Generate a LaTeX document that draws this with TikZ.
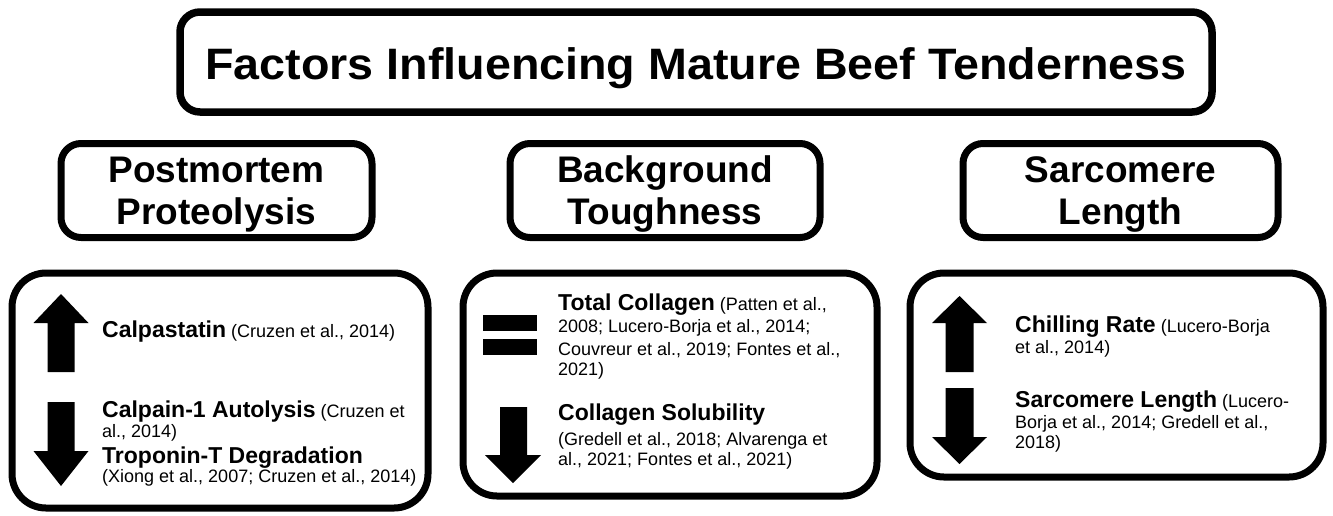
\documentclass[tikz,border=0pt]{standalone}
\usepackage{fontspec}
\setmainfont{Liberation Sans}
\newcommand{\bigbf}{\fontsize{23}{27}\selectfont\bfseries}
\begin{document}
\begin{tikzpicture}[x=1pt,y=-1pt,
  titlebox/.style={draw=black, line width=7.5pt, rounded corners=20pt, fill=white, inner sep=0pt},
  titletext/.style={anchor=base, inner sep=0pt, xscale=1.06, font=\fontsize{44}{50}\selectfont\bfseries},
  headbox/.style={draw=black, line width=7pt, rounded corners=20pt, fill=white, inner sep=0pt},
  headtext/.style={anchor=base, inner sep=0pt, align=center, font=\fontsize{37}{42}\selectfont\bfseries},
  lowbox/.style={draw=black, line width=7pt, rounded corners=34pt, fill=white, inner sep=0pt},
  ln/.style={anchor=base west, inner sep=0pt, font=\fontsize{18}{21}\selectfont},
  arr/.style={fill=black}]
\useasboundingbox (0,0) rectangle (1333,515);
% title
\node[titlebox, minimum width=1032pt, minimum height=100pt] (title) at (696,62) {};
\node[titletext] (titlet) at (696,79) {Factors Influencing Mature Beef Tenderness};
% headers
\node[headbox, minimum width=311pt, minimum height=94pt] (h1) at (216.5,190.5) {};
\node[headbox, minimum width=310pt, minimum height=94pt] (h2) at (665,190.5) {};
\node[headbox, minimum width=315pt, minimum height=94pt] (h3) at (1120.5,190.5) {};
\node[headtext] (h1t) at (h1.center |- 0,224) {Postmortem\\Proteolysis};
\node[headtext] (h2t) at (h2.center |- 0,224) {Background\\Toughness};
\node[headtext] (h3t) at (h3.center |- 0,224) {Sarcomere\\Length};
% lower boxes
\node[lowbox, minimum width=416pt, minimum height=235pt] (b1) at (220,390.5) {};
\node[lowbox, minimum width=414pt, minimum height=223pt] (b2) at (670,384.5) {};
\node[lowbox, minimum width=413pt, minimum height=204pt] (b3) at (1116.5,375) {};
% box 1 arrows
\fill[arr] (47.5,372) -- (47.5,323) -- (33.5,323) -- (61,294) -- (88.5,323) -- (74.5,323) -- (74.5,372) -- cycle;
\fill[arr] (47.5,402) -- (47.5,451) -- (33.5,451) -- (61,486) -- (88.5,451) -- (74.5,451) -- (74.5,402) -- cycle;
% box 1 text
\node[ln] (t11) at (102,337) {{\bigbf Calpastatin} (Cruzen et al., 2014)};
\node[ln] (t12) at (102,417) {{\bigbf Calpain-1 Autolysis} (Cruzen et};
\node[ln] (t13) at (102,437) {al., 2014)};
\node[ln] (t14) at (102,463) {{\bigbf Troponin-T Degradation}};
\node[ln] (t15) at (102,482) {(Xiong et al., 2007; Cruzen et al., 2014)};
% box 2 symbols
\fill[arr] (483,315) rectangle (537,331);
\fill[arr] (483,339) rectangle (537,355);
\fill[arr] (500,407) -- (500,455) -- (485,455) -- (513,483) -- (541,455) -- (527,455) -- (527,407) -- cycle;
% box 2 text
\node[ln] (t21) at (558,310) {{\bigbf Total Collagen} (Patten et al.,};
\node[ln] (t22) at (558,332) {2008; Lucero-Borja et al., 2014;};
\node[ln] (t23) at (558,355) {Couvreur et al., 2019; Fontes et al.,};
\node[ln] (t24) at (558,375) {2021)};
\node[ln] (t25) at (558,420) {{\bigbf Collagen Solubility}};
\node[ln] (t26) at (558,445) {(Gredell et al., 2018; Alvarenga et};
\node[ln] (t27) at (558,465) {al., 2021; Fontes et al., 2021)};
% box 3 arrows
\fill[arr] (945.5,372) -- (945.5,323) -- (932,323) -- (959.5,296) -- (987,323) -- (973.5,323) -- (973.5,372) -- cycle;
\fill[arr] (945.5,388) -- (945.5,437) -- (932,437) -- (959.5,464) -- (987,437) -- (973.5,437) -- (973.5,388) -- cycle;
% box 3 text
\node[ln] (t31) at (1015,332) {{\bigbf Chilling Rate} (Lucero-Borja};
\node[ln] (t32) at (1015,353) {et al., 2014)};
\node[ln] (t33) at (1015,407) {{\bigbf Sarcomere Length} (Lucero-};
\node[ln] (t34) at (1015,428) {Borja et al., 2014; Gredell et al.,};
\node[ln] (t35) at (1015,448) {2018)};
\end{tikzpicture}
\end{document}
